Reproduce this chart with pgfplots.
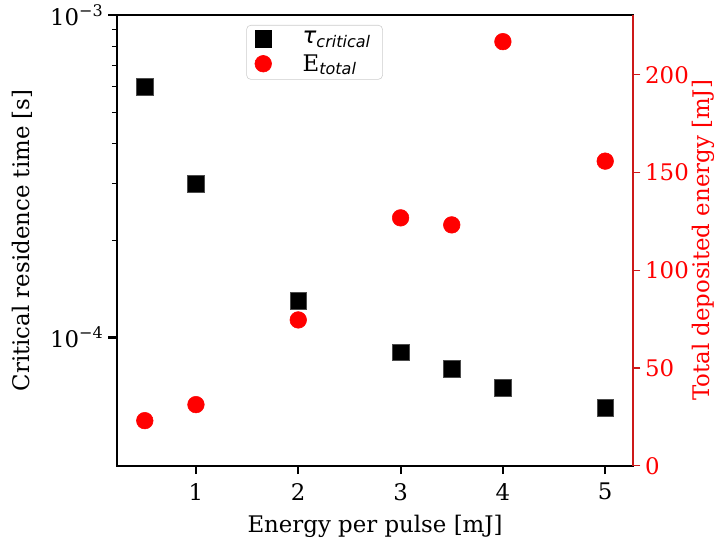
\documentclass[border=0pt]{standalone}
\usepackage{pgfplots}
\pgfplotsset{compat=1.18}
\usepackage{fontspec}
\setmainfont{DejaVu Serif}
\newfontfamily\dvs{DejaVu Sans}
\definecolor{spinered}{RGB}{205,25,25}
\definecolor{gridgray}{RGB}{235,235,235}
\begin{document}
\begin{tikzpicture}[font=\fontsize{16.5pt}{19pt}\selectfont]
\pgfplotsset{
  common/.style={
    scale only axis, width=373pt, height=325.4pt,
    xmin=0.225, xmax=5.275,
    tick align=outside,
    /pgf/number format/assume math mode=true,
  }
}
% background grid for right axis
\begin{axis}[common, ymin=0, ymax=230.5,
  axis lines=none, ytick={50,100,150,200}, xtick=\empty,
  ymajorgrids, major grid style={gridgray, line width=0.8pt},
  yticklabels={}]
\addplot[draw=none] coordinates {(1,10)};
\coordinate (O) at (rel axis cs:0,0);
\end{axis}
% left log axis
\begin{axis}[common,
  ymode=log, ymin=4e-5, ymax=1e-3,
  xtick={1,2,3,4,5},
  ytick={1e-4,1e-3},
  yticklabels={10\textsuperscript{−4},10\textsuperscript{−3}},
  xtick pos=bottom, ytick pos=left,
  major tick length=6pt, minor tick length=3.5pt,
  major tick style={black, line width=1.5pt},
  minor tick style={black, line width=0.7pt},
  axis line style={line width=1.3pt},
  xticklabel style={yshift=-3pt},
  xlabel={Energy per pulse [mJ]},
  ylabel={Critical residence time [s]},
  xlabel style={at={(rel axis cs:0.5,-0.1349)}, anchor=center},
  ylabel style={at={(rel axis cs:-0.1834,0.5)}, anchor=center},
]
\addplot[only marks, mark=square*, mark size=6pt, mark options={fill=black, draw=black!70}] coordinates {
(0.5,6.0e-4) (1,3.0e-4) (2,1.30e-4) (3,9.0e-5) (3.5,8.0e-5) (4,7.0e-5) (5,6.05e-5)};
\end{axis}
% right linear axis
\begin{axis}[common, ymin=0, ymax=230.5,
  axis y line*=right, axis x line=none,
  ytick={0,50,100,150,200},
  y axis line style={spinered, line width=1.3pt},
  major tick length=5pt,
  ytick style={spinered, line width=0.8pt},
  yticklabel style={red},
  ylabel={Total deposited energy [mJ]},
  ylabel style={red, at={(rel axis cs:1.1351,0.5)}, anchor=center},
  legend style={at={(rel axis cs:0.251,0.978)}, anchor=north west,
    draw=black!20, rounded corners=3pt, fill=white,
    row sep=1pt, inner xsep=6pt, inner ysep=2pt,
    nodes={inner sep=2.5pt}},
  legend cell align=left,
]
\addlegendimage{only marks, mark=square*, mark size=6pt, mark options={fill=black, draw=black}}
\addlegendentry{\hspace{20pt}{\dvs\itshape τ}\textsubscript{\dvs\itshape critical}}
\addplot[only marks, mark=*, mark size=6pt, red] coordinates {
(0.5,23.1) (1,31.3) (2,74.6) (3,126.8) (3.5,123.2) (4,216.9) (5,155.8)};
\addlegendentry{\hspace{20pt}E\textsubscript{\dvs\itshape total}}
\end{axis}
\path (O) ++(-84.2pt,-59.8pt) rectangle ++(517.7pt,393.8pt);
\end{tikzpicture}
\end{document}
